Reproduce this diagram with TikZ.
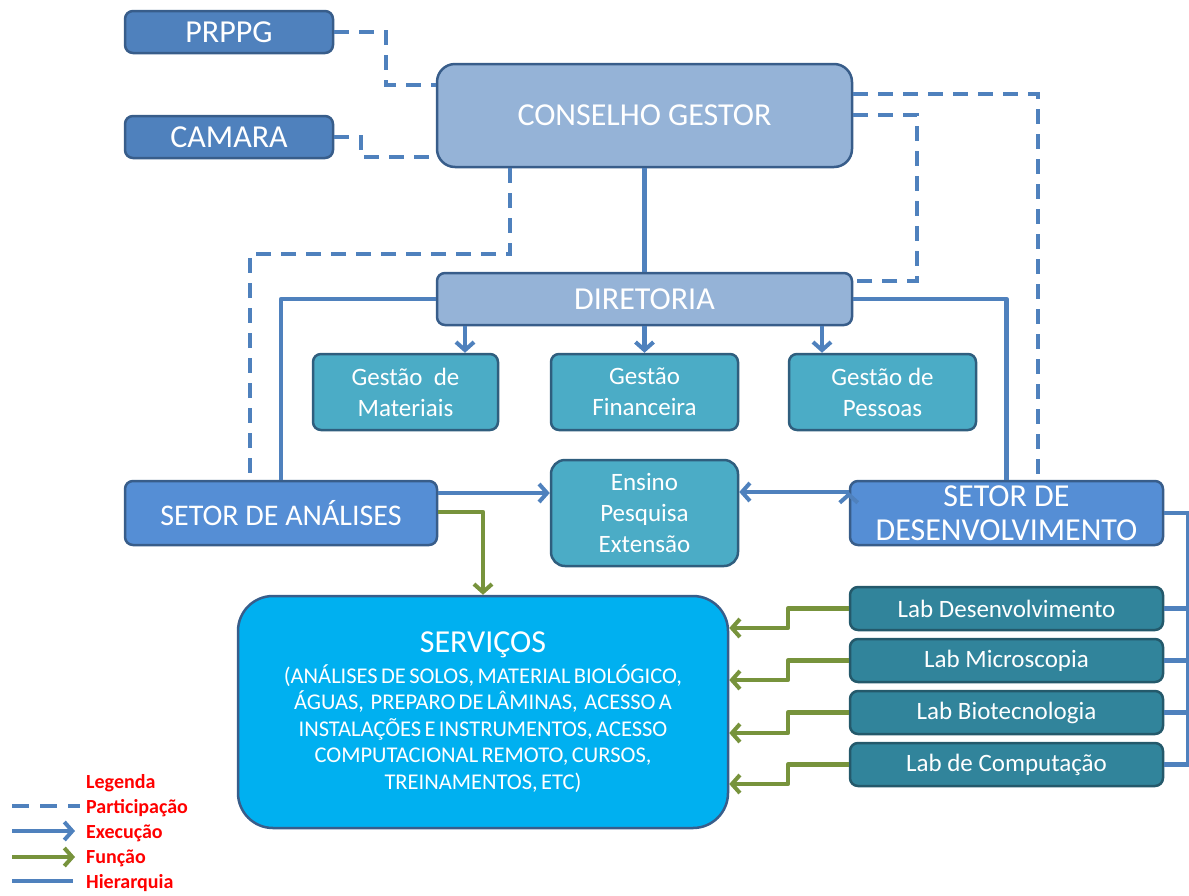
\documentclass[tikz,border=0pt]{standalone}
\usepackage{fontspec}
\setmainfont{Carlito}
\usetikzlibrary{arrows.meta}

\definecolor{boxdark}{HTML}{4F81BD}
\definecolor{boxedge}{HTML}{385D8A}
\definecolor{boxlight}{HTML}{95B3D7}
\definecolor{boxteal}{HTML}{4BACC6}
\definecolor{tealedge}{HTML}{2F5E7E}
\definecolor{boxsetor}{HTML}{558ED5}
\definecolor{boxserv}{HTML}{00B0F0}
\definecolor{boxlab}{HTML}{31849B}
\definecolor{labedge}{HTML}{24596B}
\definecolor{linkblue}{HTML}{4F81BD}
\definecolor{linkgreen}{HTML}{77933C}

\tikzset{
  box/.style={draw=boxedge, line width=2.5pt, rounded corners=8pt, text=white,
    align=center, inner sep=0pt},
  bigfont/.style={font=\fontsize{32}{34}\selectfont},
  midfont/.style={font=\fontsize{30}{34}\selectfont},
  smallfont/.style={font=\fontsize{25}{31}\selectfont},
  part/.style={draw=linkblue, line width=4pt, dash pattern=on 15pt off 10pt},
  hier/.style={draw=linkblue, line width=4.5pt, line join=round},
  exec/.style={hier, -{Straight Barb[length=8pt,width=18pt,line width=4pt]}},
  func/.style={draw=linkgreen, line width=4.5pt, line join=round,
    -{Straight Barb[length=8pt,width=18pt,line width=4pt]}},
}

\begin{document}
\begin{tikzpicture}[x=1pt,y=-1pt]

  \useasboundingbox (0,0) rectangle (1189,895);

  % upper level
  \node (prppg)     at (229,32)      [box, bigfont, fill=boxdark, minimum width=208pt, minimum height=42pt] {PRPPG};
  \node (camara)    at (229,137)     [box, bigfont, fill=boxdark, minimum width=208pt, minimum height=42pt] {CAMARA};
  \node (conselho)  at (644.5,115.5) [box, bigfont, fill=boxlight, rounded corners=18pt, minimum width=415pt, minimum height=103pt] {CONSELHO GESTOR};
  \node (diretoria) at (644.5,299)   [box, bigfont, fill=boxlight, minimum width=415pt, minimum height=52pt] {DIRETORIA};

  % gestao
  \node (gmat) at (405.5,392) [box, smallfont, fill=boxteal, draw=tealedge, minimum width=185pt, minimum height=76pt] {Gestão~ de\\Materiais};
  \node (gfin) at (644.5,392) [box, smallfont, fill=boxteal, draw=tealedge, minimum width=187pt, minimum height=76pt] {Gestão\\Financeira};
  \node (gpes) at (882.5,392) [box, smallfont, fill=boxteal, draw=tealedge, minimum width=187pt, minimum height=76pt] {Gestão de\\Pessoas};

  % setores
  \node (sana)   at (281,513)    [box, midfont, fill=boxsetor, minimum width=312pt, minimum height=64pt] {SETOR DE ANÁLISES};
  \node (ensino) at (644.5,513)  [box, smallfont, fill=boxteal, draw=tealedge, rounded corners=14pt, minimum width=187pt, minimum height=106pt] {Ensino\\Pesquisa\\Extensão};
  \node (sdes)   at (1006.5,513) [box, fill=boxsetor, minimum width=313pt, minimum height=64pt, font=\fontsize{32}{34}\selectfont] {SETOR DE\\DESENVOLVIMENTO};

  % servicos
  \node (serv) at (483,712) [box, fill=boxserv, rounded corners=35pt, minimum width=490pt, minimum height=232pt, text width=480pt]
    {{\fontsize{32}{34}\selectfont SERVIÇOS\par}\vspace{4pt}
     \fontsize{22.5}{26.5}\selectfont
     (ANÁLISES DE SOLOS, MATERIAL BIOLÓGICO,\\
     ÁGUAS,~ PREPARO DE LÂMINAS,~ ACESSO A\\
     INSTALAÇÕES E INSTRUMENTOS, ACESSO\\
     COMPUTACIONAL REMOTO, CURSOS,\\
     TREINAMENTOS, ETC)\par};

  % labs
  \node (labd) at (1006.5,608.5) [box, smallfont, fill=boxlab, draw=labedge, minimum width=313pt, minimum height=43pt] {Lab Desenvolvimento};
  \node (labm) at (1006.5,660.5) [box, smallfont, fill=boxlab, draw=labedge, minimum width=313pt, minimum height=43pt] {Lab Microscopia};
  \node (labb) at (1006.5,712.5) [box, smallfont, fill=boxlab, draw=labedge, minimum width=313pt, minimum height=43pt] {Lab Biotecnologia};
  \node (labc) at (1006.5,764.5) [box, smallfont, fill=boxlab, draw=labedge, minimum width=313pt, minimum height=43pt] {Lab de Computação};

  % participacao
  \draw [part] (prppg.east) -- ++(52,0) |- ([yshift=30.5pt]conselho.west);
  \draw [part] (camara.east) -- ++(27,0) |- ([yshift=-41.5pt]conselho.west);
  \draw [part] ([xshift=-134.5pt]conselho.south) -- ++(0,86) -| ([xshift=-31pt]sana.north);
  \draw [part] ([yshift=21.5pt]conselho.east) -| ([xshift=31.5pt]sdes.north);
  \draw [part] ([yshift=0.5pt]conselho.east) -- ++(64,0) |- ([yshift=18pt]diretoria.east);

  % hierarquia
  \draw [hier] (conselho.south) -- (diretoria.north);
  \draw [hier] (diretoria.west) -| (sana.north);
  \draw [hier] (diretoria.east) -| (sdes.north);
  \draw [hier] (sdes.east) -- ++(24,0) coordinate (bus)
    |- (labd.east) (bus) |- (labm.east) (bus) |- (labb.east) (bus) |- (labc.east);

  % execucao
  \path [exec]
    ([xshift=-179.5pt]diretoria.south) edge ([xshift=59.5pt]gmat.north)
    (diretoria.south)                  edge (gfin.north)
    ([xshift=177.5pt]diretoria.south)  edge ([xshift=-60.5pt]gpes.north)
    ([yshift=20pt]sana.east)           edge ([yshift=20pt]ensino.east -| ensino.west)
    ([yshift=21pt]sdes.west)           edge ([yshift=21pt]ensino.east);

  % funcao
  \draw [func] ([yshift=1pt]sana.east) -| (serv.north);
  \draw [func] (labd.west) -- ++(-61,0) |- ([yshift=84pt]serv.east);
  \draw [func] (labm.west) -- ++(-61,0) |- ([yshift=32pt]serv.east);
  \draw [func] (labb.west) -- ++(-61,0) |- ([yshift=-21pt]serv.east);
  \draw [func] (labc.west) -- ++(-61,0) |- ([yshift=-72pt]serv.east);

  % legenda
  \node (legenda) at (86,833) [anchor=west, align=left, text=red, inner sep=0pt,
    font=\fontsize{20}{25}\selectfont\bfseries]
    {Legenda\\Participação\\Execução\\Função\\Hierarquia};
  \coordinate (lp) at (12,806);
  \coordinate (le) at (12,831);
  \coordinate (lf) at (12,857);
  \coordinate (lh) at (12,881);
  \draw [part, dash pattern=on 17pt off 11pt] (lp) -- ++(68,0);
  \draw [exec] (le) -- ++(63,0);
  \draw [func] (lf) -- ++(63,0);
  \draw [hier] (lh) -- ++(61,0);

\end{tikzpicture}
\end{document}
